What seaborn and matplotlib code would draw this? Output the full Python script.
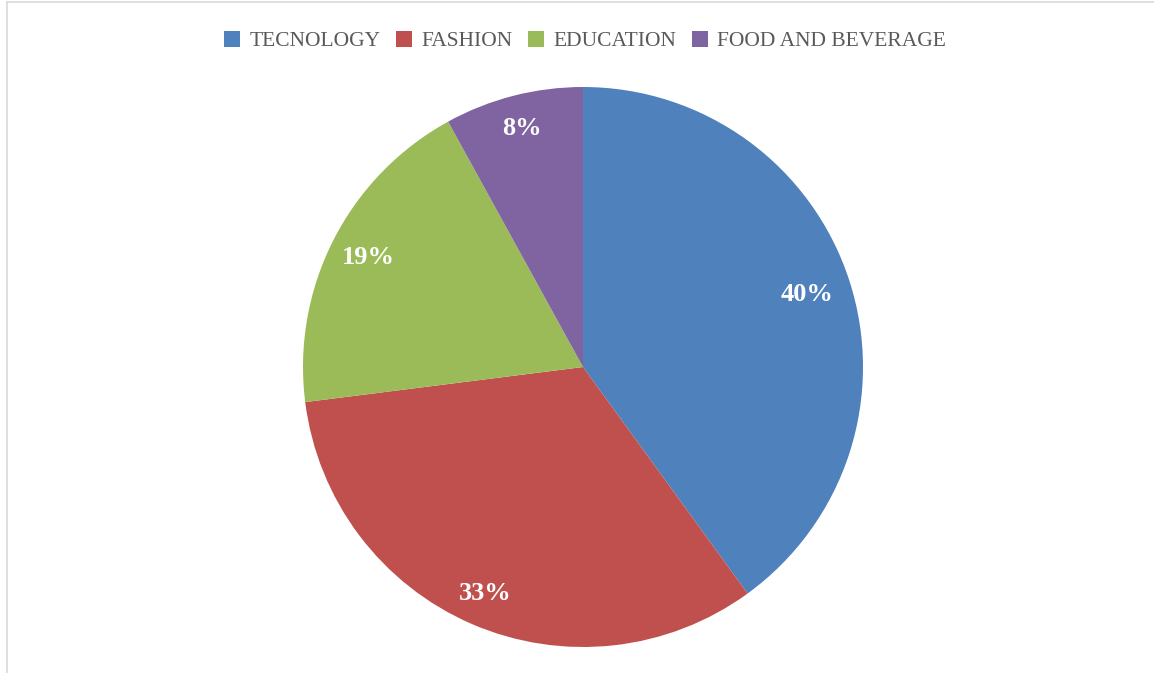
import matplotlib
matplotlib.use("Agg")
import numpy as np
import matplotlib.pyplot as plt
from matplotlib.patches import Patch
from matplotlib.lines import Line2D
import seaborn as sns

categories = ["TECNOLOGY", "FASHION", "EDUCATION", "FOOD AND BEVERAGE"]
shares = [40, 33, 19, 8]
colors = ["#4F81BD", "#C0504D", "#9BBB59", "#8064A2"]
# radial placement of each percentage label (fraction of the radius)
label_radius = [0.84, 0.88, 0.86, 0.88]

sns.set_theme(style="white")
plt.rcParams["font.family"] = ["Liberation Serif", "DejaVu Serif"]

W, H = 1154, 673
fig = plt.figure(figsize=(W / 100, H / 100), dpi=100)
fig.patch.set_facecolor("white")

# pie area: centre (583, 367), radius 280 px
cx, cy, r = 583, 367, 280
ax = fig.add_axes([(cx - r) / W, (H - cy - r) / H, 2 * r / W, 2 * r / H])
wedges, texts, autotexts = ax.pie(
    shares,
    colors=colors,
    startangle=90,
    counterclock=False,
    autopct="%d%%",
    pctdistance=0.86,
    wedgeprops=dict(linewidth=0),
    textprops=dict(color="white", fontsize=19, fontweight="bold"),
)
for w, t, d in zip(wedges, autotexts, label_radius):
    mid = np.deg2rad((w.theta1 + w.theta2) / 2)
    t.set_position((d * np.cos(mid), d * np.sin(mid)))
ax.set_xlim(-1, 1)
ax.set_ylim(-1, 1)
ax.set_aspect("equal")
ax.axis("off")

handles = [Patch(facecolor=c, edgecolor="none") for c in colors]
leg = fig.legend(
    handles,
    categories,
    loc="center",
    bbox_to_anchor=(585 / W, 1 - 41 / H),
    ncol=4,
    frameon=False,
    fontsize=15.5,
    handlelength=0.75,
    handleheight=0.75,
    handletextpad=0.45,
    columnspacing=0.7,
)
for t in leg.get_texts():
    t.set_color("#595959")

# thin outer frame along the top and left edges
fig.add_artist(Line2D([7 / W, 1], [1 - 1.5 / H, 1 - 1.5 / H], color="#d9d9d9", lw=1.2, transform=fig.transFigure))
fig.add_artist(Line2D([7 / W, 7 / W], [0, 1 - 1.5 / H], color="#d9d9d9", lw=1.2, transform=fig.transFigure))

fig.savefig("out.png", dpi=100, facecolor="white")
